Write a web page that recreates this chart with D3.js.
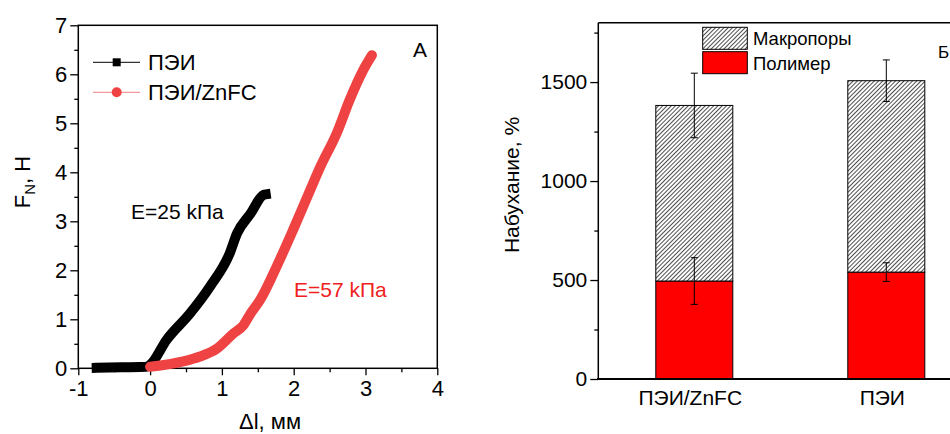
<!DOCTYPE html>
<html><head><meta charset="utf-8">
<script src="https://cdn.jsdelivr.net/npm/d3@7"></script>
<style>
html,body{margin:0;padding:0;background:#fff;}
svg{display:block;font-family:Arial,"Liberation Sans",sans-serif;}
</style></head>
<body>
<svg id="c" width="950" height="434"></svg>
<script>
// ---------- Panel A data ----------
const peiX = [-0.744, -0.4, -0.05, 0.0, 0.23, 0.556, 0.835, 1.11, 1.21, 1.40, 1.58, 1.61];
const peiY = [0.01, 0.02, 0.03, 0.07, 0.58, 1.12, 1.67, 2.35, 2.75, 3.16, 3.54, 3.55];
const znX = [0.0, 0.46, 0.695, 0.93, 1.16, 1.30, 1.40, 1.53, 1.76, 1.99, 2.23, 2.37, 2.60, 2.78, 2.97, 3.09];
const znY = [0.03, 0.14, 0.24, 0.40, 0.71, 0.88, 1.12, 1.39, 2.07, 2.82, 3.64, 4.11, 4.8, 5.48, 6.09, 6.39];
const xTicksA = [-1, 0, 1, 2, 3, 4];
const yTicksA = [0, 1, 2, 3, 4, 5, 6, 7];
const seriesNamesA = ["ПЭИ", "ПЭИ/ZnFC"];

// ---------- Panel B data ----------
const categories = ["ПЭИ/ZnFC", "ПЭИ"];
const polymer = [495, 540];
const polymerErr = [118, 47];
const macropores = [887, 967];
const totalErr = [163, 105];
const yTicksB = [0, 500, 1000, 1500];
const legendB = ["Макропоры", "Полимер"];

const svg = d3.select("#c");
const defs = svg.append("defs");
defs.append("pattern").attr("id","hatch").attr("patternUnits","userSpaceOnUse")
  .attr("width",3).attr("height",3).attr("patternTransform","rotate(45)")
  .call(p=>{
    p.append("rect").attr("width",3).attr("height",3).attr("fill","#fff");
    p.append("line").attr("x1",0.5).attr("y1",0).attr("x2",0.5).attr("y2",3)
      .attr("stroke","#3a3a3a").attr("stroke-width",0.9);
  });

const fmtInt = d => String(d); // plain hyphen-minus like the reference

// ================= Panel A =================
const xA = d3.scaleLinear([-1,4],[78.3,437.3]);
const yA = d3.scaleLinear([0,7],[368.3,25.3]);
const gA = svg.append("g");

const axA = gA.append("g").attr("transform",`translate(0,${yA(0)})`)
  .call(d3.axisBottom(xA).tickValues(d3.range(-0.5,4,1)).tickSize(4).tickFormat(""));
axA.select(".domain").remove();
const ayA = gA.append("g").attr("transform",`translate(${xA(-1)},0)`)
  .call(d3.axisLeft(yA).tickValues(d3.range(0.5,7,1)).tickSize(4).tickFormat(""));
ayA.select(".domain").remove();
const bxA = gA.append("g").attr("transform",`translate(0,${yA(0)})`)
  .call(d3.axisBottom(xA).tickValues(xTicksA).tickSize(7).tickPadding(5).tickFormat(fmtInt));
bxA.select(".domain").remove();
const byA = gA.append("g").attr("transform",`translate(${xA(-1)},0)`)
  .call(d3.axisLeft(yA).tickValues(yTicksA).tickSize(8).tickPadding(3).tickFormat(fmtInt));
byA.select(".domain").remove();
gA.selectAll(".tick text").attr("font-size",22).attr("fill","#000").attr("font-family","Arial, 'Liberation Sans', sans-serif");
gA.selectAll(".tick line").attr("stroke","#000").attr("stroke-width",1.3);
gA.append("rect").attr("x",xA(-1)).attr("y",yA(7)).attr("width",xA(4)-xA(-1)).attr("height",yA(0)-yA(7))
  .attr("fill","none").attr("stroke","#000").attr("stroke-width",1.5);

const lineA = d3.line().x(d=>xA(d[0])).y(d=>yA(d[1])).curve(d3.curveMonotoneX);
gA.append("path").datum(d3.zip(peiX,peiY)).attr("d",lineA)
  .attr("fill","none").attr("stroke","#000").attr("stroke-width",10).attr("stroke-linecap","square").attr("stroke-linejoin","round");
gA.append("path").datum(d3.zip(znX,znY)).attr("d",lineA)
  .attr("fill","none").attr("stroke","#ef4343").attr("stroke-width",10).attr("stroke-linecap","round").attr("stroke-linejoin","round");

// legend A
const legA = gA.append("g");
[{c:"#000",lc:"#000",m:"sq"},{c:"#ef4343",lc:"#f08080",m:"ci"}].forEach((s,i)=>{
  const y = 62.3 + i*30;
  legA.append("line").attr("x1",93).attr("x2",140).attr("y1",y).attr("y2",y).attr("stroke",s.lc).attr("stroke-width",1);
  if(s.m==="sq") legA.append("rect").attr("x",112.7).attr("y",y-4).attr("width",8).attr("height",8).attr("fill",s.c);
  else legA.append("circle").attr("cx",116.7).attr("cy",y).attr("r",5).attr("fill",s.c);
  legA.append("text").attr("x",148).attr("y",y+8).attr("font-size",22).text(seriesNamesA[i]);
});
gA.append("text").attr("x",420).attr("y",57).attr("font-size",21).attr("text-anchor","middle").text("А");
gA.append("text").attr("x",131).attr("y",219).attr("font-size",21).text("E=25 kПа");
gA.append("text").attr("x",294).attr("y",297).attr("font-size",21).attr("fill","#ef2020").text("E=57 kПа");
gA.append("text").attr("x",270).attr("y",429).attr("font-size",22).attr("text-anchor","middle").text("Δl, мм");
const ttl = gA.append("text").attr("transform","translate(30,182) rotate(-90)").attr("font-size",22).attr("text-anchor","middle");
ttl.append("tspan").text("F");
ttl.append("tspan").attr("font-size",15).attr("dy",5).text("N");
ttl.append("tspan").attr("dy",-5).text(", Н");

// ================= Panel B =================
const gB = svg.append("g");
const yB = d3.scaleLinear([0,1800],[379,22.7]);
const xB = d3.scalePoint(categories,[598.3,982.3]).padding(0.5);
const bw = 77;

const myB = gB.append("g").attr("transform",`translate(598.3,0)`)
  .call(d3.axisLeft(yB).tickValues([250,750,1250,1750]).tickSize(4).tickFormat(""));
myB.select(".domain").remove();
const ayB = gB.append("g").attr("transform",`translate(598.3,0)`)
  .call(d3.axisLeft(yB).tickValues(yTicksB).tickSize(8).tickPadding(3).tickFormat(fmtInt));
ayB.select(".domain").remove();
gB.selectAll(".tick text").attr("font-size",21).attr("fill","#000").attr("font-family","Arial, 'Liberation Sans', sans-serif");
gB.selectAll(".tick line").attr("stroke","#000").attr("stroke-width",1.3);

categories.forEach((c,i)=>{
  const cx = xB(c);
  gB.append("rect").attr("x",cx-bw/2).attr("y",yB(polymer[i])).attr("width",bw).attr("height",yB(0)-yB(polymer[i]))
    .attr("fill","#ff0000").attr("stroke","#000").attr("stroke-width",1);
  const top = polymer[i]+macropores[i];
  gB.append("rect").attr("x",cx-bw/2).attr("y",yB(top)).attr("width",bw).attr("height",yB(polymer[i])-yB(top))
    .attr("fill","url(#hatch)").attr("stroke","#000").attr("stroke-width",1);
  [[polymer[i],polymerErr[i]],[top,totalErr[i]]].forEach(([v,e])=>{
    const g = gB.append("g").attr("stroke","#000").attr("stroke-width",1);
    g.append("line").attr("x1",cx).attr("x2",cx).attr("y1",yB(v-e)).attr("y2",yB(v+e));
    g.append("line").attr("x1",cx-3.5).attr("x2",cx+3.5).attr("y1",yB(v-e)).attr("y2",yB(v-e));
    g.append("line").attr("x1",cx-3.5).attr("x2",cx+3.5).attr("y1",yB(v+e)).attr("y2",yB(v+e));
  });
  gB.append("text").attr("x",cx-4).attr("y",405).attr("font-size",21).attr("text-anchor","middle").text(c);
});
gB.append("line").attr("x1",598.3).attr("x2",950).attr("y1",22.7).attr("y2",22.7).attr("stroke","#000").attr("stroke-width",1.5);
gB.append("line").attr("x1",598.3).attr("x2",598.3).attr("y1",22.7).attr("y2",379).attr("stroke","#000").attr("stroke-width",1.5);
gB.append("line").attr("x1",597).attr("x2",950).attr("y1",379).attr("y2",379).attr("stroke","#000").attr("stroke-width",2);

[["url(#hatch)"],["#ff0000"]].forEach((f,i)=>{
  const y = 27.3 + i*24.4;
  gB.append("rect").attr("x",702.7).attr("y",y).attr("width",44.6).attr("height",22)
    .attr("fill",f[0]).attr("stroke","#000").attr("stroke-width",1);
  gB.append("text").attr("x",753).attr("y",y+18).attr("font-size",18.5).text(legendB[i]);
});
gB.append("text").attr("x",938).attr("y",58).attr("font-size",17).text("Б");
gB.append("text").attr("transform","translate(519,185) rotate(-90)").attr("font-size",21).attr("text-anchor","middle").text("Набухание, %");
</script>
</body></html>
